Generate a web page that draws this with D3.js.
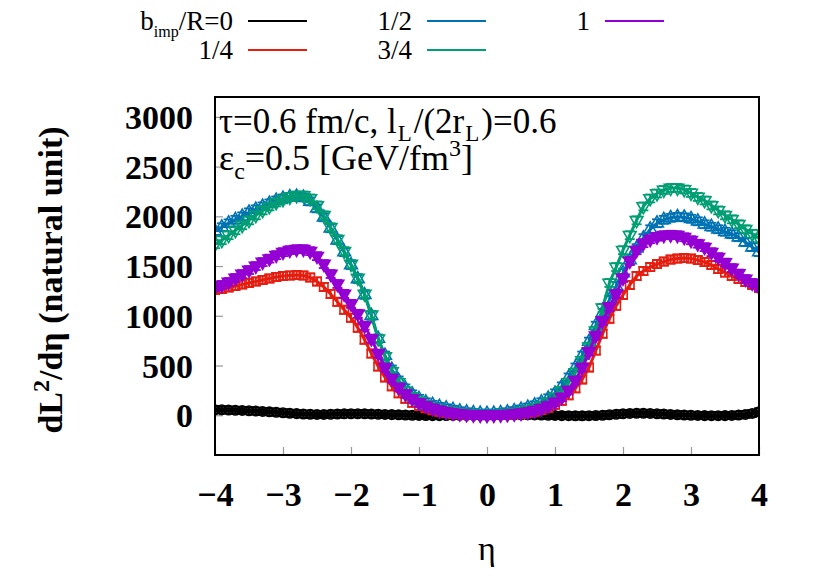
<!DOCTYPE html>
<html><head><meta charset="utf-8">
<script src="https://cdn.jsdelivr.net/npm/d3@7"></script>
<style>body{margin:0;background:#fff}svg{display:block}</style>
</head><body>
<svg id="c" width="830" height="581"></svg>
<script>
// eta grid (-4 .. 4, step 0.1)
const eta = d3.range(81).map(i => Math.round((i - 40)) / 10);
const seriesNames = ["0", "1/4", "1/2", "3/4", "1"];
const seriesColors = ["#000000", "#e51e10", "#0072b2", "#009e73", "#9400d3"];
const yTicks = [0, 500, 1000, 1500, 2000, 2500, 3000];
const xTicks = [-4, -3, -2, -1, 0, 1, 2, 3, 4];
const errSize = [35, 40, 40, 40, 40];

const black = [55,55,52,50,48,45,42,38,34,30,
  25,20,16,12,10,8,8,10,12,14,
  15,15,14,12,10,8,6,4,2,0,
  -2,-3,-4,-4,-3,-2,-1,0,0,1,
  2,
  2,3,4,5,5,4,3,2,0,-2,
  -4,-5,-6,-6,-5,-3,0,5,10,15,
  18,20,20,18,15,12,8,5,2,0,
  -2,-4,-5,-5,-4,-2,2,8,18,35];
const red = [1260,1270,1285,1300,1315,1330,1345,1360,1375,1390,
  1400,1405,1410,1405,1385,1345,1290,1220,1140,1060,
  980,880,760,620,490,380,290,220,165,125,
  95,70,50,35,25,15,9,5,2,1,
  0,
  1,2,5,9,15,24,36,52,75,105,
  145,200,270,360,480,650,820,970,1100,1210,
  1310,1400,1450,1490,1520,1545,1565,1575,1580,1575,
  1560,1540,1510,1470,1435,1400,1370,1340,1310,1280];
const blue = [1850,1890,1930,1965,2000,2040,2070,2100,2130,2160,
  2180,2195,2200,2190,2150,2080,1990,1880,1760,1640,
  1510,1370,1210,1000,770,600,460,350,270,210,
  165,130,105,85,70,55,40,30,22,17,
  15,
  17,22,30,42,58,78,100,130,170,220,
  290,380,480,600,740,900,1030,1160,1300,1430,
  1560,1680,1780,1870,1930,1965,1985,1995,1990,1975,
  1950,1920,1895,1870,1845,1820,1790,1740,1690,1640];
const green = [1720,1760,1810,1860,1910,1960,2010,2060,2100,2140,
  2170,2195,2210,2210,2180,2110,2010,1890,1770,1650,
  1520,1380,1220,1010,770,590,440,330,245,185,
  140,105,80,60,45,33,23,15,10,7,
  5,
  6,10,16,25,35,50,70,95,130,180,
  245,330,430,550,690,850,1080,1330,1490,1660,
  1810,1960,2100,2180,2230,2265,2285,2285,2270,2235,
  2195,2160,2110,2060,2010,1970,1920,1870,1825,1780];
const purple = [1290,1310,1340,1380,1420,1460,1500,1540,1575,1610,
  1640,1660,1670,1670,1650,1600,1520,1420,1320,1220,
  1120,1020,900,770,620,480,370,280,215,165,
  125,95,70,50,35,23,14,8,4,2,
  1,
  2,4,8,14,22,33,48,68,95,130,
  180,250,350,480,640,800,950,1090,1220,1380,
  1550,1660,1730,1770,1795,1810,1815,1810,1790,1760,
  1725,1690,1640,1590,1535,1480,1425,1370,1330,1290];
const allSeries = [black, red, blue, green, purple];

const svg = d3.select("#c");
const L = 215, R = 759, T = 97, B = 455;
const x = d3.scaleLinear().domain([-4, 4]).range([L, R]);
const y = d3.scaleLinear().domain([-400, 3200]).range([B, T]);
const serif = "'Liberation Serif','Times New Roman',serif";

// ticks (inward)
const gy = svg.append("g").attr("transform", `translate(${L},0)`)
  .call(d3.axisLeft(y).tickValues(yTicks).tickSize(-8).tickFormat(d => d).tickPadding(22));
const gx = svg.append("g").attr("transform", `translate(0,${B})`)
  .call(d3.axisBottom(x).tickValues(xTicks).tickSize(-8).tickFormat(d => d < 0 ? "\u2212" + (-d) : d).tickPadding(26));
[gy, gx].forEach(g => {
  g.select(".domain").remove();
  g.selectAll(".tick line").attr("stroke", "#999").attr("stroke-width", 1.2);
  g.selectAll(".tick text").attr("font-family", serif).attr("font-weight", "bold")
    .attr("font-size", 34).attr("fill", "#000");
});
gy.selectAll(".tick text").attr("dy", "0.34em");
gx.selectAll(".tick text").attr("dy", "0.74em");

// clip
svg.append("clipPath").attr("id", "clip").append("rect")
  .attr("x", L).attr("y", T).attr("width", R - L).attr("height", B - T);
const plot = svg.append("g").attr("clip-path", "url(#clip)");

const symbols = [d3.symbolCircle, d3.symbolSquare, d3.symbolTriangle, d3.symbolTriangle, d3.symbolTriangle];
const filled = [false, false, false, false, true];
const rot = [0, 0, 0, 180, 180];
const line = d3.line().x(d => x(d[0])).y(d => y(d[1]));

allSeries.forEach((vals, si) => {
  const c = seriesColors[si];
  const pts = eta.map((e, i) => [e, vals[i]]);
  const g = plot.append("g");
  g.append("path").datum(pts).attr("d", line).attr("fill", "none")
    .attr("stroke", c).attr("stroke-width", si === 0 ? 5 : 3);
  // error bars
  const eb = g.selectAll(".eb").data(pts).enter().append("g");
  eb.append("line").attr("x1", d => x(d[0])).attr("x2", d => x(d[0]))
    .attr("y1", d => y(d[1] - errSize[si])).attr("y2", d => y(d[1] + errSize[si]))
    .attr("stroke", c).attr("stroke-width", 2);
  [-1, 1].forEach(s => {
    eb.append("line").attr("x1", d => x(d[0]) - 5).attr("x2", d => x(d[0]) + 5)
      .attr("y1", d => y(d[1] + s * errSize[si])).attr("y2", d => y(d[1] + s * errSize[si]))
      .attr("stroke", c).attr("stroke-width", 1.8);
  });
  g.selectAll(".pt").data(pts).enter().append("path")
    .attr("d", d3.symbol().type(symbols[si]).size(70))
    .attr("transform", d => `translate(${x(d[0])},${y(d[1])}) rotate(${rot[si]})`)
    .attr("fill", filled[si] ? c : "none").attr("stroke", c).attr("stroke-width", 1.6);
});

// frame
svg.append("rect").attr("x", L).attr("y", T).attr("width", R - L).attr("height", B - T)
  .attr("fill", "none").attr("stroke", "#000").attr("stroke-width", 2);

// axis labels
svg.append("text").attr("x", (L + R) / 2).attr("y", 560).attr("text-anchor", "middle")
  .attr("font-family", serif).attr("font-size", 34).text("\u03b7");
const yl = svg.append("text").attr("transform", "translate(62,280) rotate(-90)")
  .attr("text-anchor", "middle").attr("font-family", serif).attr("font-size", 34).attr("font-weight", "bold");
yl.append("tspan").text("dL");
yl.append("tspan").attr("dy", -13).attr("font-size", 24).text("2");
yl.append("tspan").attr("dy", 13).text("/d\u03b7 (natural unit)");

// annotation
const a1 = svg.append("text").attr("x", 219).attr("y", 133).attr("font-family", serif).attr("font-size", 35);
a1.append("tspan").text("\u03c4=0.6 fm/c, l");
a1.append("tspan").attr("dy", 8).attr("dx", 1).attr("font-size", 23).text("L");
a1.append("tspan").attr("dy", -8).attr("dx", 2).text("/(2r");
a1.append("tspan").attr("dy", 8).attr("dx", 1).attr("font-size", 23).text("L");
a1.append("tspan").attr("dy", -8).attr("dx", 2).text(")=0.6");
const a2 = svg.append("text").attr("x", 219).attr("y", 170).attr("font-family", serif).attr("font-size", 36);
a2.append("tspan").text("\u03b5");
a2.append("tspan").attr("dy", 9).attr("font-size", 24).text("c");
a2.append("tspan").attr("dy", -9).text("=0.5 [GeV/fm");
a2.append("tspan").attr("dy", -14).attr("font-size", 24).text("3");
a2.append("tspan").attr("dy", 14).text("]");

// legend
const legend = [
  {i: 0, tx: 233, lx: 248, ly: 21},
  {i: 1, tx: 233, lx: 248, ly: 50},
  {i: 2, tx: 412, lx: 427, ly: 21},
  {i: 3, tx: 412, lx: 427, ly: 50},
  {i: 4, tx: 590, lx: 605, ly: 21}
];
legend.forEach(l => {
  const t = svg.append("text").attr("x", l.tx).attr("y", l.ly + 9).attr("text-anchor", "end")
    .attr("font-family", serif).attr("font-size", 27);
  if (l.i === 0) {
    t.append("tspan").text("b");
    t.append("tspan").attr("dy", 7).attr("font-size", 16).text("imp");
    t.append("tspan").attr("dy", -7).text("/R=" + seriesNames[0]);
  } else {
    t.text(seriesNames[l.i]);
  }
  svg.append("line").attr("x1", l.lx).attr("x2", l.lx + 59).attr("y1", l.ly).attr("y2", l.ly)
    .attr("stroke", seriesColors[l.i]).attr("stroke-width", 2.2);
});
</script>
</body></html>
